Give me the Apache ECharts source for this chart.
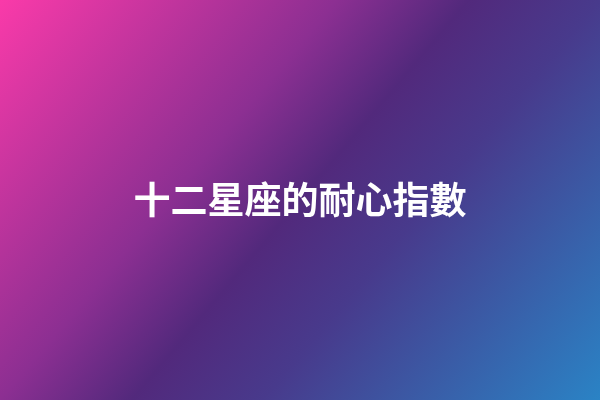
<!DOCTYPE html>
<html>
<head>
<meta charset="utf-8">
<style>html,body{margin:0;padding:0;}#c{width:600px;height:400px;}</style>
<script src="https://cdn.jsdelivr.net/npm/echarts@6/dist/echarts.min.js"></script>
</head>
<body>
<div id="c"></div>
<script>
const titleText = "十二星座的耐心指數";
const gradientStops = [0, 0.36, 0.5, 0.64, 1];
const gradientColors = ["#fa3aa9", "#8c2f92", "#52297c", "#483a8c", "#2a83c5"];

const chart = echarts.init(document.getElementById('c'));
chart.setOption({
  animation: false,
  graphic: [
    {
      type: 'rect',
      z: -10,
      shape: { x: 0, y: 0, width: 600, height: 400 },
      style: {
        fill: new echarts.graphic.LinearGradient(26, -31, 574, 431,
          gradientStops.map((o, i) => ({ offset: o, color: gradientColors[i] })), true)
      }
    },
    {
      type: 'text',
      left: 'center',
      top: 'middle',
      style: {
        text: titleText,
        fill: '#ffffff',
        font: 'bold 37px "Noto Sans CJK TC"'
      }
    }
  ]
});
</script>
</body>
</html>
